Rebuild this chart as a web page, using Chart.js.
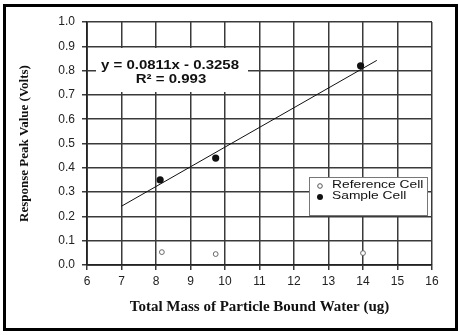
<!DOCTYPE html>
<html><head><meta charset="utf-8">
<script src="https://cdn.jsdelivr.net/npm/chart.js@4/dist/chart.umd.min.js"></script>
<style>html,body{margin:0;padding:0;background:#fff;}#wrap{width:460px;height:335px;position:relative;}</style>
</head><body><div id="wrap"><canvas id="c" width="460" height="335"></canvas></div>
<script>
const sampleX = [8.12, 9.73, 13.93];
const sampleY = [0.35, 0.44, 0.82];
const refX = [8.17, 9.73, 14.0];
const refY = [0.053, 0.045, 0.049];
const trendX = [7.0, 14.4];
const trendY = [0.242, 0.842];
const xTicks = [6,7,8,9,10,11,12,13,14,15,16];
const yTicks = [0,0.1,0.2,0.3,0.4,0.5,0.6,0.7,0.8,0.9,1.0];
const seriesNames = ['Reference Cell', 'Sample Cell'];
const eqLines = ['y = 0.0811x - 0.3258', 'R² = 0.993'];
const xTitle = 'Total Mass of Particle Bound Water (ug)';
const yTitle = 'Response Peak Value (Volts)';

const pts = (xs, ys) => xs.map((x, i) => ({x, y: ys[i]}));

function stretchText(ctx, text, cx, cy, sx, align) {
  ctx.save();
  ctx.translate(cx, cy);
  ctx.scale(sx, 1);
  ctx.textAlign = align;
  ctx.fillText(text, 0, 0);
  ctx.restore();
}

const deco = {
  id: 'deco',
  beforeDatasetsDraw(chart) {
    const ctx = chart.ctx;
    ctx.save();
    ctx.fillStyle = '#fff';
    ctx.fillRect(96, 48, 152, 44);
    ctx.fillStyle = '#111';
    ctx.font = 'bold 12.5px "Liberation Sans", Arial, sans-serif';
    ctx.textBaseline = 'middle';
    stretchText(ctx, eqLines[0], 170, 66, 1.2, 'center');
    stretchText(ctx, eqLines[1], 171, 80, 1.2, 'center');
    ctx.restore();
  },
  afterDatasetsDraw(chart) {
    const ctx = chart.ctx;
    ctx.save();
    ctx.fillStyle = '#fff';
    ctx.fillRect(309, 177, 119, 39);
    ctx.strokeStyle = '#777';
    ctx.lineWidth = 1;
    ctx.strokeRect(309.5, 177.5, 118, 38);
    ctx.font = '11.5px "Liberation Sans", Arial, sans-serif';
    ctx.textBaseline = 'middle';
    ctx.fillStyle = '#111';
    stretchText(ctx, seriesNames[0], 332, 185, 1.2, 'left');
    stretchText(ctx, seriesNames[1], 332, 196, 1.2, 'left');
    ctx.beginPath();
    ctx.arc(320, 186, 2.3, 0, Math.PI * 2);
    ctx.strokeStyle = '#555';
    ctx.stroke();
    ctx.beginPath();
    ctx.arc(320, 197, 3, 0, Math.PI * 2);
    ctx.fillStyle = '#111';
    ctx.fill();
    ctx.strokeStyle = '#000';
    ctx.lineWidth = 3;
    ctx.strokeRect(4.5, 5.5, 452, 324);
    ctx.restore();
  }
};

new Chart(document.getElementById('c'), {
  type: 'scatter',
  data: {
    datasets: [
      { label: 'Trend', data: pts(trendX, trendY), showLine: true, borderColor: '#111', borderWidth: 1, pointRadius: 0, fill: false },
      { label: seriesNames[1], data: pts(sampleX, sampleY), backgroundColor: '#111', borderColor: '#111', pointRadius: 3.6, pointBorderWidth: 0 },
      { label: seriesNames[0], data: pts(refX, refY), backgroundColor: '#fff', borderColor: '#666', pointRadius: 2.4, pointBorderWidth: 1 }
    ]
  },
  options: {
    responsive: false,
    animation: false,
    devicePixelRatio: 1,
    layout: { padding: { left: 0, right: 28, top: 22, bottom: 0 } },
    plugins: { legend: { display: false }, tooltip: { enabled: false } },
    scales: {
      x: {
        type: 'linear', min: 6, max: 16,
        afterBuildTicks: s => { s.ticks = xTicks.map(v => ({value: v})); },
        afterFit: s => { s.height = 70; },
        grid: { color: '#3a3a3a', lineWidth: 1.5, tickLength: 5, drawTicks: true },
        border: { color: '#222', width: 1.8 },
        ticks: { color: '#222', font: { family: '"Liberation Sans", Arial, sans-serif', size: 12 }, padding: 4, maxRotation: 0, callback: v => String(v) },
        title: { display: true, text: xTitle, color: '#111', font: { family: '"Liberation Serif", "Times New Roman", serif', size: 15, weight: 'bold' }, padding: { top: 0, bottom: 19 } }
      },
      y: {
        type: 'linear', min: 0, max: 1,
        afterBuildTicks: s => { s.ticks = yTicks.map(v => ({value: v})); },
        afterFit: s => { s.width = 87; },
        grid: { color: '#3a3a3a', lineWidth: 1.5, tickLength: 5, drawTicks: true },
        border: { color: '#222', width: 1.8 },
        ticks: { color: '#222', font: { family: '"Liberation Sans", Arial, sans-serif', size: 12 }, padding: 7, callback: v => Number(v).toFixed(1) },
        title: { display: true, text: yTitle, color: '#111', font: { family: '"Liberation Serif", "Times New Roman", serif', size: 13, weight: 'bold' }, padding: { top: 17, bottom: 0 } }
      }
    }
  },
  plugins: [deco]
});
</script></body></html>
